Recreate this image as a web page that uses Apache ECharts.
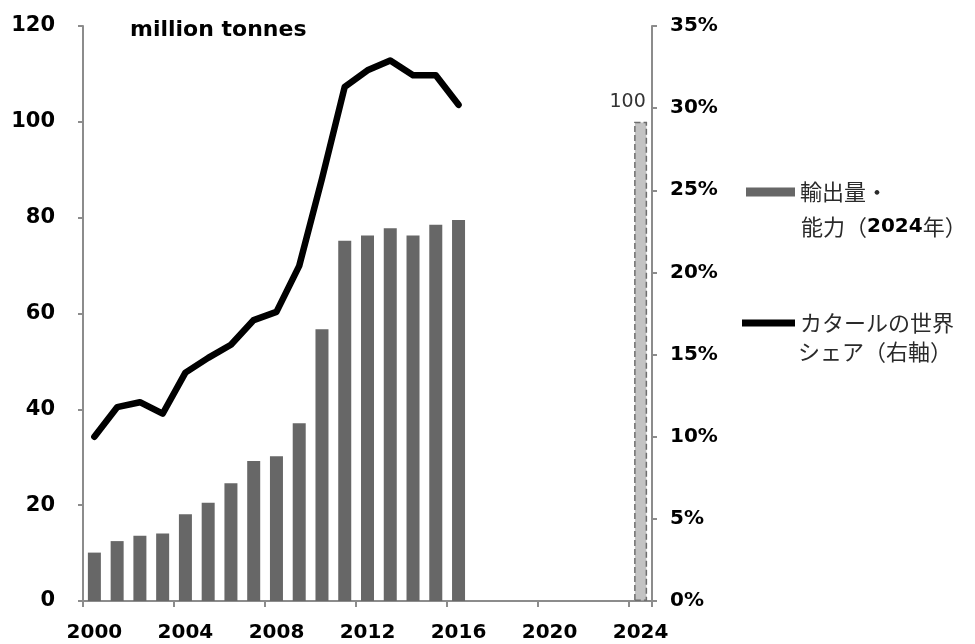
<!DOCTYPE html>
<html>
<head>
<meta charset="utf-8">
<script src="https://cdn.jsdelivr.net/npm/echarts@6/dist/echarts.min.js"></script>
<style>
  html, body { margin: 0; padding: 0; background: #fff; }
  #chart { width: 975px; height: 644px; }
</style>
</head>
<body>
<div id="chart"></div>
<script>
// Years on the category axis
const years = ['2000','2001','2002','2003','2004','2005','2006','2007','2008','2009',
  '2010','2011','2012','2013','2014','2015','2016','2017','2018','2019',
  '2020','2021','2022','2023','2024'];

// LNG exports (million tonnes); 2024 = planned capacity
const exportVolume = [10.1, 12.5, 13.6, 14.1, 18.1, 20.5, 24.6, 29.2, 30.2, 37.1,
  56.7, 75.2, 76.3, 77.8, 76.3, 78.5, 79.5, null, null, null,
  null, null, null, null, 100];

// Qatar's share of world LNG trade (%)
const worldShare = [10.0, 11.8, 12.1, 11.4, 13.9, 14.8, 15.6, 17.1, 17.6, 20.4,
  25.7, 31.3, 32.3, 32.9, 32.0, 32.0, 30.2, null, null, null,
  null, null, null, null, null];

const leftTicks = { min: 0, max: 120, interval: 20 };
const rightTicks = { min: 0, max: 35, interval: 5 };

const barName = '輸出量・能力（2024年）';
const lineName = 'カタールの世界シェア（右軸）';

const numFont = 'DejaVu Sans';
const cjkFont = '"Noto Sans CJK JP", "Noto Sans CJK SC", sans-serif';
const axisGrey = '#8c8c8c';
const legendText = '#2a2a2a';

const barData = exportVolume.map((v, i) => {
  if (years[i] !== '2024') return v;
  return {
    value: v,
    itemStyle: { color: '#c3c3c3', borderColor: '#6e6e6e', borderType: 'dashed', borderWidth: 1.5 },
    label: {
      show: true, position: 'top', distance: 2, offset: [-13, -8],
      fontFamily: numFont, fontSize: 19, color: '#333'
    }
  };
});

const chart = echarts.init(document.getElementById('chart'), null, { renderer: 'canvas' });

chart.setOption({
  animation: false,
  backgroundColor: '#ffffff',
  grid: { left: 83, right: 323, top: 26, bottom: 43, containLabel: false },
  xAxis: {
    type: 'category',
    data: years,
    boundaryGap: true,
    axisLine: { show: true, lineStyle: { color: axisGrey, width: 2 } },
    axisTick: { show: true, interval: 3, length: 6, alignWithLabel: false, lineStyle: { color: axisGrey, width: 2 } },
    axisLabel: {
      interval: 3, margin: 22,
      fontFamily: numFont, fontWeight: 'bold', fontSize: 20, color: '#000'
    },
    splitLine: { show: false }
  },
  yAxis: [
    {
      type: 'value',
      min: leftTicks.min, max: leftTicks.max, interval: leftTicks.interval,
      axisLine: { show: true, lineStyle: { color: axisGrey, width: 2 } },
      axisTick: { show: true, length: 5, lineStyle: { color: axisGrey, width: 2 } },
      axisLabel: {
        margin: 28, align: 'right',
        fontFamily: numFont, fontWeight: 'bold', fontSize: 21, color: '#000'
      },
      splitLine: { show: false }
    },
    {
      type: 'value',
      position: 'right',
      min: rightTicks.min, max: rightTicks.max, interval: rightTicks.interval,
      axisLine: { show: true, lineStyle: { color: axisGrey, width: 2 } },
      axisTick: { show: true, length: 5, lineStyle: { color: axisGrey, width: 2 } },
      axisLabel: {
        margin: 18, align: 'left',
        formatter: (v) => '{p|' + v + '%}',
        rich: {
          p: {
            width: 56, align: 'left',
            fontFamily: numFont, fontWeight: 'bold', fontSize: 20, color: '#000'
          }
        }
      },
      splitLine: { show: false }
    }
  ],
  legend: [
    {
      data: [{ name: barName, icon: 'rect' }],
      left: 746, top: 180, padding: 0,
      itemWidth: 49, itemHeight: 9,
      selectedMode: false,
      formatter: () => '輸出量・',
      textStyle: { fontFamily: cjkFont, fontSize: 22, color: legendText, lineHeight: 24 }
    },
    {
      data: [{ name: lineName, icon: 'rect' }],
      left: 742, top: 311, padding: 0,
      itemWidth: 53, itemHeight: 7,
      selectedMode: false,
      formatter: () => 'カタールの世界',
      textStyle: { fontFamily: cjkFont, fontSize: 22, color: legendText, lineHeight: 24 }
    }
  ],
  graphic: [
    {
      type: 'text', left: 130, top: 19,
      style: { text: 'million tonnes', font: 'bold 22px "DejaVu Sans"', fill: '#000' }
    },
    {
      type: 'text', left: 801, top: 216,
      style: {
        text: '{a|能力（}{b|2024}{a|年）}',
        rich: {
          a: { fontFamily: cjkFont, fontSize: 22, fill: legendText, lineHeight: 24 },
          b: { fontFamily: numFont, fontWeight: 'bold', fontSize: 20, fill: '#000', lineHeight: 24 }
        }
      }
    },
    {
      type: 'text', left: 798, top: 341,
      style: { text: 'シェア（右軸）', fontFamily: cjkFont, fontSize: 22, fill: legendText }
    }
  ],
  series: [
    {
      name: barName,
      type: 'bar',
      yAxisIndex: 0,
      barWidth: 13,
      itemStyle: { color: '#676767' },
      data: barData
    },
    {
      name: lineName,
      type: 'line',
      yAxisIndex: 1,
      showSymbol: false,
      symbol: 'none',
      itemStyle: { color: '#000' },
      lineStyle: { color: '#000', width: 6.5, cap: 'round', join: 'round' },
      data: worldShare
    }
  ]
});
</script>
</body>
</html>
